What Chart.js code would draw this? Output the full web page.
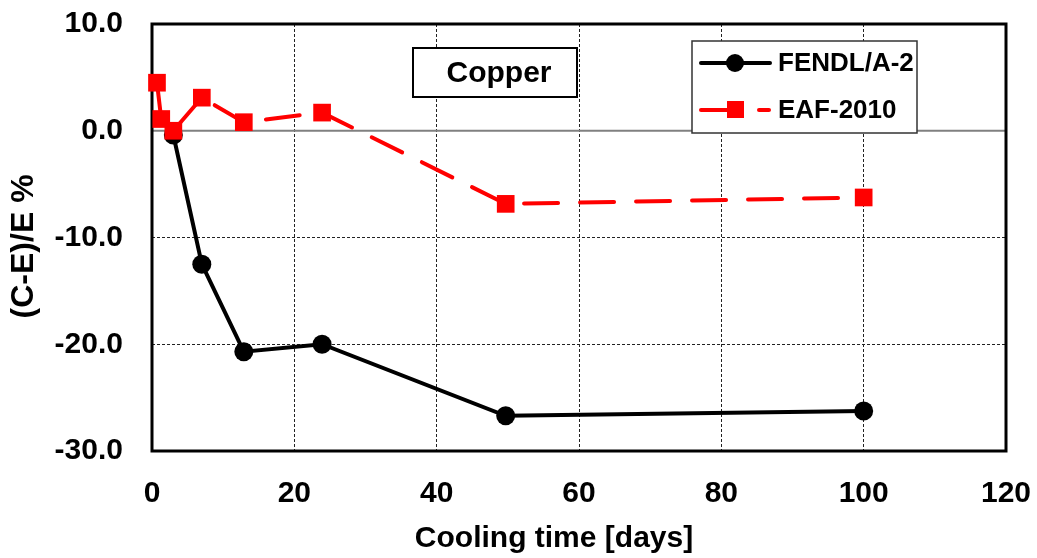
<!DOCTYPE html>
<html>
<head>
<meta charset="utf-8">
<script src="https://cdn.jsdelivr.net/npm/chart.js@4.4.1/dist/chart.umd.min.js"></script>
<style>
html,body{margin:0;padding:0;background:#fff;}
#wrap{width:1037px;height:558px;}
</style>
</head>
<body>
<div id="wrap"><canvas id="c" width="1037" height="558"></canvas></div>
<script>
// Data
const coolingDays = [0.7, 1.3, 3.0, 7.0, 12.9, 23.9, 49.7, 100];
const fendlValues = [null, null, -0.4, -12.5, -20.7, -20.0, -26.7, -26.25];
const eafValues   = [4.5, 1.1, 0.0, 3.1, 0.8, 1.7, -6.85, -6.25];
const xTicks = [0, 20, 40, 60, 80, 100, 120];
const yTicks = [-30, -20, -10, 0, 10];
const seriesNames = ['FENDL/A-2', 'EAF-2010'];
const boxLabel = 'Copper';

const FONT = "'Liberation Sans', Arial, Helvetica, sans-serif";

function toPoints(xs, ys) {
  const pts = [];
  xs.forEach((x, i) => { if (ys[i] !== null) pts.push({x: x, y: ys[i]}); });
  return pts;
}

const framePlugin = {
  id: 'frame',
  beforeDatasetsDraw(chart) {
    const {ctx, chartArea: a, scales} = chart;
    ctx.save();
    // zero line
    const y0 = scales.y.getPixelForValue(0);
    ctx.strokeStyle = '#808080';
    ctx.lineWidth = 2;
    ctx.beginPath();
    ctx.moveTo(a.left, y0);
    ctx.lineTo(a.right, y0);
    ctx.stroke();
    // plot frame
    ctx.strokeStyle = '#000';
    ctx.lineWidth = 3;
    ctx.strokeRect(a.left, a.top, a.right - a.left, a.bottom - a.top);
    ctx.restore();
  },
  afterDatasetsDraw(chart) {
    const {ctx} = chart;
    ctx.save();
    // Copper label box
    ctx.fillStyle = '#fff';
    ctx.fillRect(413, 48, 164, 49);
    ctx.strokeStyle = '#000';
    ctx.lineWidth = 2;
    ctx.strokeRect(413, 48, 164, 49);
    ctx.fillStyle = '#000';
    ctx.font = "bold 30px " + FONT;
    ctx.textAlign = 'center';
    ctx.textBaseline = 'middle';
    ctx.fillText(boxLabel, 499, 74);

    // Legend box
    ctx.fillStyle = '#fff';
    ctx.fillRect(692, 41, 225, 92);
    ctx.strokeStyle = '#333';
    ctx.lineWidth = 1.5;
    ctx.strokeRect(692, 41, 225, 92);

    // FENDL entry
    ctx.strokeStyle = '#000';
    ctx.lineWidth = 4;
    ctx.lineCap = 'round';
    ctx.beginPath();
    ctx.moveTo(701, 63);
    ctx.lineTo(770, 63);
    ctx.stroke();
    ctx.fillStyle = '#000';
    ctx.beginPath();
    ctx.arc(735, 63, 9, 0, Math.PI * 2);
    ctx.fill();

    // EAF entry
    ctx.strokeStyle = '#ff0000';
    ctx.beginPath();
    ctx.moveTo(701, 110);
    ctx.lineTo(740, 110);
    ctx.stroke();
    ctx.beginPath();
    ctx.moveTo(759, 110);
    ctx.lineTo(769, 110);
    ctx.stroke();
    ctx.fillStyle = '#ff0000';
    ctx.fillRect(727, 101, 17, 17);

    ctx.fillStyle = '#000';
    ctx.font = "bold 26px " + FONT;
    ctx.textAlign = 'left';
    ctx.textBaseline = 'middle';
    ctx.fillText(seriesNames[0], 778, 64);
    ctx.fillText(seriesNames[1], 778, 111);
    ctx.restore();
  }
};

const gridColor = (edges) => (ctx) => {
  const v = ctx.tick ? ctx.tick.value : null;
  return edges.includes(v) ? 'rgba(0,0,0,0)' : '#222';
};

new Chart(document.getElementById('c'), {
  type: 'scatter',
  data: {
    datasets: [
      {
        label: seriesNames[0],
        data: toPoints(coolingDays, fendlValues),
        showLine: true,
        borderColor: '#000',
        backgroundColor: '#000',
        borderWidth: 4,
        pointRadius: 9.5,
        pointBorderWidth: 0,
        pointStyle: 'circle',
        order: 2,
        clip: false
      },
      {
        label: seriesNames[1],
        data: toPoints(coolingDays, eafValues),
        showLine: true,
        borderColor: '#ff0000',
        backgroundColor: '#ff0000',
        borderWidth: 4,
        borderDash: [34, 22],
        borderCapStyle: 'round',
        pointRadius: 12.5,
        pointBorderWidth: 0,
        pointStyle: 'rect',
        order: 1,
        clip: false
      }
    ]
  },
  options: {
    responsive: false,
    animation: false,
    devicePixelRatio: 1,
    layout: { padding: { top: 24, right: 31, left: 0, bottom: 0 } },
    plugins: {
      legend: { display: false },
      tooltip: { enabled: false }
    },
    scales: {
      x: {
        type: 'linear',
        min: 0, max: 120,
        afterBuildTicks: (s) => { s.ticks = xTicks.map(v => ({value: v})); },
        afterFit: (s) => { s.height = 107; },
        ticks: {
          color: '#000',
          font: { family: FONT, size: 30, weight: 'bold' },
          padding: 0,
          maxRotation: 0
        },
        grid: { color: gridColor([0, 120]), lineWidth: 1, drawTicks: true, tickLength: 25, tickColor: 'rgba(0,0,0,0)' },
        border: { display: false, dash: [3, 2] },
        title: {
          display: true,
          text: 'Cooling time [days]\u00a0\u00a0\u00a0\u00a0\u00a0\u00a0',
          color: '#000',
          font: { family: FONT, size: 30, weight: 'bold' },
          padding: { top: 0, bottom: 1 }
        }
      },
      y: {
        type: 'linear',
        min: -30, max: 10,
        afterBuildTicks: (s) => { s.ticks = yTicks.map(v => ({value: v})); },
        afterFit: (s) => { s.width = 152; },
        ticks: {
          color: '#000',
          font: { family: FONT, size: 30, weight: 'bold' },
          padding: 0,
          callback: (v) => Number(v).toFixed(1)
        },
        grid: { color: gridColor([-30, 0, 10]), lineWidth: 1, drawTicks: true, tickLength: 29, tickColor: 'rgba(0,0,0,0)' },
        border: { display: false, dash: [3, 2] },
        title: {
          display: true,
          text: '(C-E)/E %\u00a0\u00a0',
          color: '#000',
          font: { family: FONT, size: 32, weight: 'bold' },
          padding: { top: 5, bottom: 0 }
        }
      }
    }
  },
  plugins: [framePlugin]
});
</script>
</body>
</html>
